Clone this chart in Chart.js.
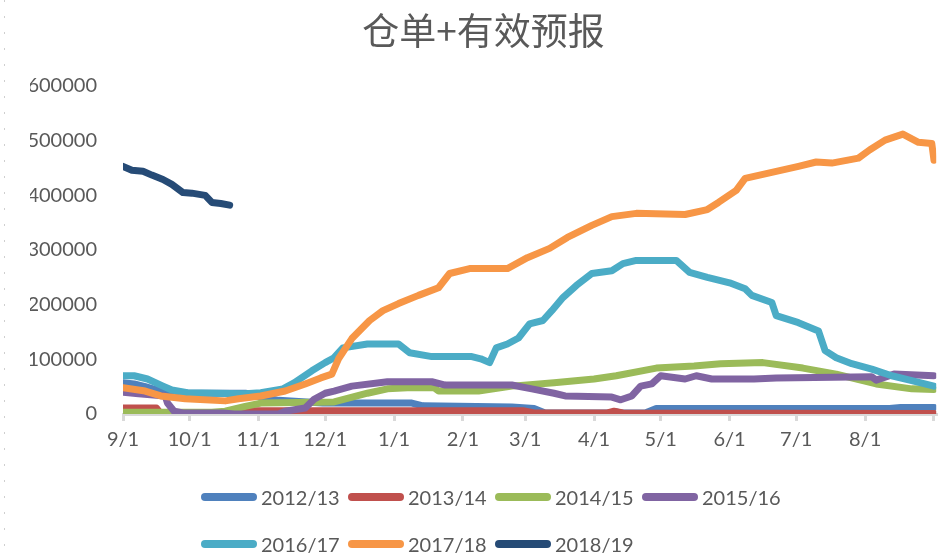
<!DOCTYPE html>
<html>
<head>
<meta charset="utf-8">
<title>仓单+有效预报</title>
<script src="https://cdn.jsdelivr.net/npm/chart.js@4.4.1/dist/chart.umd.min.js"></script>
<style>
  html, body { margin: 0; padding: 0; background: #fff; }
  #wrap { position: relative; width: 941px; height: 554px; }
  #edge { position: absolute; left: 4px; top: 0; width: 1px; height: 554px;
          background: repeating-linear-gradient(to bottom, #cfcfcf 0 2px, transparent 2px 16px); }
  #legend { position: absolute; left: 201px; top: 485px; font: 20px Lato, sans-serif; color: #595959; }
  .row { display: flex; height: 24px; line-height: 24px; margin-bottom: 23px; }
  .item { width: 147px; display: flex; align-items: center; }
  .swatch { width: 56px; height: 8px; border-radius: 4px; margin-right: 4px; }
</style>
</head>
<body>
<div id="wrap">
  <canvas id="myChart" width="941" height="554"></canvas>
  <div id="edge"></div>
  <div id="legend"></div>
</div>
<script>
// x = dagen sinds 1 sept, y = ton (仓单+有效预报)
const seasons = ['2012/13', '2013/14', '2014/15', '2015/16', '2016/17', '2017/18', '2018/19'];
const monthDays = [0, 30, 61, 91, 122, 153, 181, 212, 242, 273, 303, 334, 365];
const monthLabels = ['9/1', '10/1', '11/1', '12/1', '1/1', '2/1', '3/1', '4/1', '5/1', '6/1', '7/1', '8/1', ''];

const days1213 = [0, 5, 10, 15, 20, 30, 55, 60, 70, 90, 130, 135, 175, 185, 190, 220, 222, 224, 235, 240, 345, 350, 365];
const stock1213 = [57000, 55000, 50000, 44000, 40000, 38000, 38000, 33000, 25000, 20000, 20000, 15000, 13000, 10000, 2000, 2000, 4000, 2000, 2000, 10000, 10000, 12000, 12000];

const days1314 = [0, 15, 17, 50, 55, 180, 185, 218, 221, 225, 365];
const stock1314 = [11000, 11000, 500, 500, 6000, 6000, 2000, 2000, 5000, 2000, 1000];

const days1415 = [0, 40, 46, 55, 62, 95, 110, 119, 128, 140, 142, 160, 175, 194, 212, 222, 240, 257, 269, 288, 306, 321, 339, 355, 365];
const stock1415 = [3000, 3000, 5000, 14000, 20000, 22000, 38000, 46000, 48000, 48000, 42000, 42000, 51000, 57000, 64000, 70000, 84000, 88000, 92000, 94000, 84000, 73000, 55000, 46000, 45000];

const days1516 = [0, 7, 19, 20, 23, 27, 45, 50, 70, 73, 82, 86, 91, 95, 103, 119, 139, 145, 175, 184, 194, 199, 220, 224, 229, 233, 238, 242, 253, 258, 265, 284, 294, 337, 339, 347, 365];
const stock1516 = [40000, 37000, 33000, 20000, 5000, 2000, 2000, 0, 0, 5000, 11000, 27000, 38000, 42000, 51000, 59000, 59000, 53000, 53000, 46000, 38000, 33000, 31000, 26000, 33000, 51000, 55000, 70000, 64000, 70000, 64000, 64000, 66000, 68000, 62000, 73000, 70000];

const days1617 = [0, 5, 11, 18, 22, 29, 55, 62, 72, 77, 85, 91, 95, 99, 110, 124, 129, 139, 157, 161, 165, 168, 173, 178, 183, 189, 193, 198, 204, 211, 220, 225, 231, 249, 255, 263, 273, 280, 283, 292, 294, 304, 313, 316, 321, 328, 337, 346, 355, 365];
const stock1617 = [70000, 70000, 64000, 51000, 44000, 39000, 37000, 39000, 46000, 57000, 79000, 94000, 103000, 121000, 128000, 128000, 112000, 105000, 105000, 101000, 94000, 121000, 128000, 139000, 165000, 171000, 189000, 213000, 235000, 257000, 262000, 275000, 281000, 281000, 259000, 250000, 240000, 229000, 217000, 204000, 180000, 167000, 152000, 116000, 103000, 92000, 82000, 70000, 61000, 51000];

const days1718 = [0, 10, 17, 28, 46, 52, 62, 73, 82, 89, 94, 97, 103, 111, 117, 124, 133, 142, 147, 156, 173, 182, 192, 200, 211, 220, 231, 253, 263, 268, 276, 280, 292, 304, 312, 319, 331, 336, 343, 351, 358, 364, 365];
const stock1718 = [48000, 42000, 33000, 28000, 24000, 28000, 33000, 42000, 55000, 66000, 73000, 101000, 138000, 171000, 189000, 202000, 217000, 231000, 257000, 266000, 266000, 286000, 303000, 323000, 345000, 361000, 367000, 365000, 374000, 387000, 409000, 431000, 442000, 453000, 461000, 459000, 468000, 483000, 501000, 512000, 497000, 495000, 464000];

const days1819 = [0, 4, 9, 13, 18, 22, 27, 31, 37, 40, 44, 48];
const stock1819 = [453000, 446000, 444000, 437000, 429000, 420000, 405000, 404000, 400000, 387000, 385000, 382000];

const yTicks = [0, 100000, 200000, 300000, 400000, 500000, 600000];

const colors = ['#4F81BD', '#C0504D', '#9BBB59', '#8064A2', '#4BACC6', '#F79646', '#264B76'];
const series = [
  [days1213, stock1213], [days1314, stock1314], [days1415, stock1415], [days1516, stock1516],
  [days1617, stock1617], [days1718, stock1718], [days1819, stock1819]
];

const textColor = '#595959';

const datasets = series.map(([d, v], i) => ({
  label: seasons[i],
  data: d.map((x, j) => ({ x: x, y: v[j] })),
  borderColor: colors[i],
  backgroundColor: colors[i],
  borderWidth: 7,
  borderCapStyle: 'round',
  borderJoinStyle: 'round',
  pointRadius: 0,
  tension: 0,
  order: -i   // latere seizoenen bovenop, zoals in Excel
}));

const ctx = document.getElementById('myChart').getContext('2d');
const myChart = new Chart(ctx, {
  type: 'line',
  data: { datasets: datasets },
  options: {
    responsive: false,
    animation: false,
    layout: { padding: { left: 30, right: 4, top: 0, bottom: 100 } },
    plugins: {
      legend: { display: false },
      tooltip: { enabled: false },
      title: {
        display: true,
        text: '仓单+有效预报',
        color: textColor,
        font: { family: '"Noto Sans CJK SC", sans-serif', size: 37, weight: 'normal' },
        padding: { top: 9, bottom: 32.6 }
      }
    },
    scales: {
      x: {
        type: 'linear',
        min: 0,
        max: 366,
        afterBuildTicks: s => { s.ticks = monthDays.map(v => ({ value: v })); },
        afterFit: s => { s.height = 40; },
        ticks: {
          autoSkip: false,
          maxRotation: 0,
          padding: 7,
          color: textColor,
          font: { family: 'Lato, sans-serif', size: 20 },
          callback: (v, i) => monthLabels[i]
        },
        grid: { drawOnChartArea: false, drawTicks: true, tickLength: 7, color: '#d9d9d9', lineWidth: 3 },
        border: { color: '#d9d9d9', width: 3 }
      },
      y: {
        min: 0,
        max: 600000,
        afterBuildTicks: s => { s.ticks = yTicks.map(v => ({ value: v })); },
        afterFit: s => { s.width = 93; },
        ticks: {
          padding: 26,
          color: textColor,
          font: { family: 'Lato, sans-serif', size: 20 },
          callback: v => String(v)
        },
        grid: { display: false, drawTicks: false },
        border: { display: false }
      }
    }
  }
});

// legenda in html, twee rijen zoals in het origineel
const legend = document.getElementById('legend');
[[0, 1, 2, 3], [4, 5, 6]].forEach(idx => {
  const row = document.createElement('div');
  row.className = 'row';
  idx.forEach(i => {
    const item = document.createElement('div');
    item.className = 'item';
    item.innerHTML = '<span class="swatch" style="background:' + colors[i] + '"></span><span>' + seasons[i] + '</span>';
    row.appendChild(item);
  });
  legend.appendChild(row);
});
</script>
</body>
</html>
